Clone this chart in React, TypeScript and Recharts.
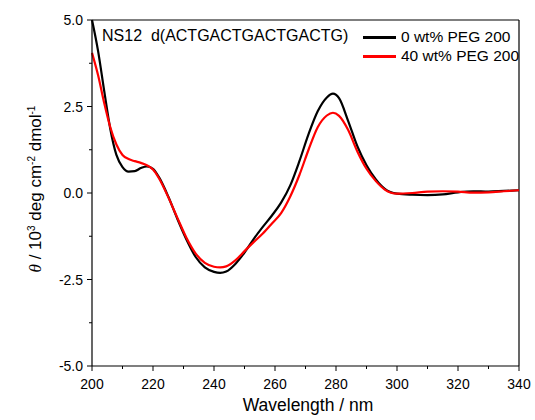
import { Line, LineChart, ReferenceLine, XAxis, YAxis } from "recharts";

const wavelengths = [
  200, 202, 204, 206, 208, 210, 212, 214, 216, 218, 220, 222, 225, 228, 231, 234, 237, 240, 242, 244,
  247, 250, 253, 256, 259, 262, 265, 268, 271, 274, 277, 279, 281, 284, 287, 290, 293, 296, 300, 305,
  310, 315, 320, 325, 330, 335, 340,
];
const peg0 = [
  5.0, 4.1, 2.95, 1.85, 1.1, 0.75, 0.62, 0.63, 0.72, 0.77, 0.7, 0.45, -0.1, -0.75, -1.35, -1.85, -2.15,
  -2.28, -2.31, -2.27, -2.05, -1.72, -1.33, -0.98, -0.65, -0.28, 0.22, 0.92, 1.7, 2.36, 2.76, 2.87, 2.74,
  2.08, 1.35, 0.8, 0.4, 0.12, -0.02, -0.05, -0.06, -0.04, 0.02, 0.05, 0.04, 0.06, 0.08,
];
const peg40 = [
  4.05, 3.4, 2.6, 1.9, 1.4, 1.1, 0.98, 0.92, 0.87, 0.8, 0.68, 0.42, -0.12, -0.72, -1.3, -1.75, -2.02,
  -2.13, -2.15, -2.12, -1.95, -1.68, -1.42, -1.17, -0.88, -0.58, -0.1, 0.52, 1.25, 1.9, 2.24, 2.32, 2.23,
  1.82, 1.2, 0.7, 0.35, 0.1, -0.02, 0.0, 0.04, 0.05, 0.04, 0.01, 0.02, 0.05, 0.08,
];
const xTicks = [200, 210, 220, 230, 240, 250, 260, 270, 280, 290, 300, 310, 320, 330, 340];
const yTicks = [-5, -3.75, -2.5, -1.25, 0, 1.25, 2.5, 3.75, 5];

const data = wavelengths.map((w, i) => ({ w, black: peg0[i], red: peg40[i] }));

const font = "'Liberation Sans', Arial, sans-serif";

const XTick = (props: any) => {
  const { x, y, payload } = props;
  const v = payload.value as number;
  const major = v % 20 === 0;
  return (
    <g>
      <line x1={x} x2={x} y1={y} y2={y + (major ? 5 : 3)} stroke="#000" strokeWidth={1} />
      {major && (
        <text x={x} y={y + 23} textAnchor="middle" fill="#000" fontSize={14} fontFamily={font}>
          {v}
        </text>
      )}
    </g>
  );
};

const YTick = (props: any) => {
  const { x, y, payload } = props;
  const v = payload.value as number;
  const major = Math.abs((v / 2.5) % 1) < 1e-6;
  return (
    <g>
      <line x1={x} x2={x - (major ? 5 : 3)} y1={y} y2={y} stroke="#000" strokeWidth={1} />
      {major && (
        <text x={x - 9} y={y + 5} textAnchor="end" fill="#000" fontSize={14} fontFamily={font}>
          {v.toFixed(1)}
        </text>
      )}
    </g>
  );
};

export default function App() {
  return (
    <div
      style={{
        position: "absolute",
        left: 0,
        top: 0,
        width: 535,
        height: 420,
        background: "#fff",
        fontFamily: font,
        color: "#000",
      }}
    >
      <LineChart width={535} height={420} data={data} margin={{ top: 20, right: 16, bottom: 0, left: 0 }}>
        <XAxis
          dataKey="w"
          type="number"
          domain={[200, 340]}
          ticks={xTicks}
          tick={<XTick />}
          tickSize={0}
          tickMargin={0}
          tickLine={false}
          axisLine={{ stroke: "#000", strokeWidth: 1.2 }}
          height={54}
          interval={0}
        />
        <YAxis
          type="number"
          domain={[-5, 5]}
          ticks={yTicks}
          tick={<YTick />}
          tickSize={0}
          tickMargin={0}
          tickLine={false}
          axisLine={{ stroke: "#000", strokeWidth: 1.2 }}
          width={92}
          interval={0}
        />
        <ReferenceLine y={5} stroke="#000" strokeWidth={1.2} />
        <ReferenceLine x={340} stroke="#000" strokeWidth={1.2} />
        <Line
          type="monotone"
          dataKey="black"
          stroke="#000"
          strokeWidth={2.2}
          dot={false}
          isAnimationActive={false}
        />
        <Line
          type="monotone"
          dataKey="red"
          stroke="#ff0000"
          strokeWidth={2.2}
          dot={false}
          isAnimationActive={false}
        />
      </LineChart>

      <div style={{ position: "absolute", left: 102, top: 27, fontSize: 16, whiteSpace: "nowrap" }}>
        NS12&nbsp; d(ACTGACTGACTGACTG)
      </div>
      <div style={{ position: "absolute", left: 363, top: 36, width: 33, height: 2.5, background: "#000" }} />
      <div style={{ position: "absolute", left: 401, top: 28, fontSize: 15.5, whiteSpace: "nowrap" }}>
        0 wt% PEG 200
      </div>
      <div style={{ position: "absolute", left: 363, top: 55, width: 33, height: 2.5, background: "#ff0000" }} />
      <div style={{ position: "absolute", left: 401, top: 47, fontSize: 15.5, whiteSpace: "nowrap" }}>
        40 wt% PEG 200
      </div>

      <div
        style={{
          position: "absolute",
          left: 308,
          top: 395,
          transform: "translateX(-50%)",
          fontSize: 17.5,
          whiteSpace: "nowrap",
        }}
      >
        Wavelength / nm
      </div>
      <div
        style={{
          position: "absolute",
          left: 36,
          top: 189,
          transform: "translate(-50%, -50%) rotate(-90deg)",
          fontSize: 17,
          whiteSpace: "nowrap",
        }}
      >
        <i style={{ fontFamily: "'Liberation Serif', serif" }}>θ</i> / 10<sup style={{ fontSize: 10 }}>3</sup> deg cm
        <sup style={{ fontSize: 10 }}>-2</sup> dmol<sup style={{ fontSize: 10 }}>-1</sup>
      </div>
    </div>
  );
}
